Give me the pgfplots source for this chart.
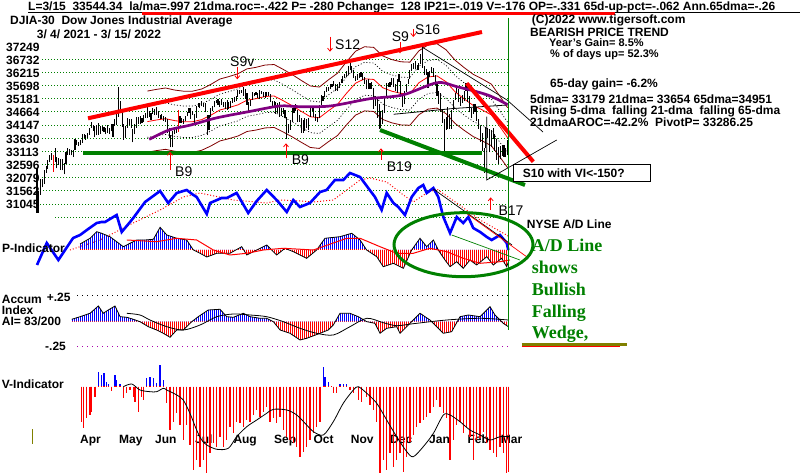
\documentclass[border=0pt]{standalone}
\usepackage{pgfplots}
\pgfplotsset{compat=1.18}
\usepackage{pgfplotstable}
\usetikzlibrary{patterns.meta,arrows.meta}
\usepackage{fontspec}
\setmainfont{Liberation Sans}
\newfontfamily\tnr{Liberation Serif}
\definecolor{dgreen}{RGB}{0,128,0}
\definecolor{maroon}{RGB}{128,0,0}
\definecolor{purp}{RGB}{128,0,128}
\definecolor{olive}{RGB}{128,128,0}
\definecolor{magent}{RGB}{170,0,170}
\newcommand{\bt}{\fontsize{12pt}{12pt}\selectfont\bfseries}
\newcommand{\bs}{\fontsize{11pt}{11pt}\selectfont\bfseries}
\newcommand{\st}{\fontsize{14pt}{14pt}\selectfont}
\newcommand{\gt}{\tnr\fontsize{18pt}{18pt}\selectfont\bfseries\color{dgreen}}

% DJIA daily low / high (trading day index 0 = 3/4/2021 ... 260 = 3/15/2022)
\pgfplotstableread{
d lo hi
0 30700 32480
1 30700 31560
2 31420 32020
3 31700 32050
4 31850 32390
5 32280 32560
6 32420 32790
7 32680 32970
8 32780 33050
9 32310 32990
10 32700 33230
11 32450 32890
12 32590 32860
13 32400 32820
14 32370 32800
15 32220 32650
16 32620 33090
17 32990 33260
18 32980 33210
19 32960 33160
20 32890 33170
21 33180 33620
22 33370 33580
23 33320 33500
24 33360 33570
25 33450 33810
26 33650 33790
27 33580 33760
28 33640 33850
29 33760 34050
30 34040 34260
31 33930 34160
32 33680 34100
33 33740 34150
34 33760 34230
35 33800 34130
36 33900 34100
37 33880 34080
38 33780 34030
39 33830 34140
40 33790 34050
41 33900 34190
42 33690 34180
43 34110 34380
44 34160 34570
45 34470 35650
46 34700 35090
47 34080 34650
48 33570 34210
49 33640 34130
50 34040 34440
51 34150 34400
52 34030 34380
53 33470 34000
54 33800 34190
55 34050 34450
56 34200 34480
57 34180 34500
58 34220 34420
59 34280 34550
60 34420 34630
61 34440 34850
62 34480 34690
63 34360 34610
64 34590 34810
65 34550 34770
66 34550 34850
67 34440 34700
68 34380 34560
69 34400 34570
70 34320 34520
71 34270 34450
72 33850 34380
73 33660 34050
74 33270 33760
75 33270 33900
76 33780 34010
77 33830 34030
78 33890 34740
79 34220 34500
80 34240 34440
81 34200 34380
82 34290 34520
83 34490 34650
84 34630 34800
85 34400 34800
86 34560 34720
87 34150 34600
88 34440 34910
89 34850 35000
90 34830 35030
91 34880 35100
92 34850 35010
93 34650 35030
94 33740 34560
95 33950 34530
96 34450 34810
97 34700 34880
98 34840 35080
99 35000 35150
100 34950 35170
101 34850 35110
102 34950 35170
103 34850 35040
104 34770 35060
105 34760 35130
106 34780 35060
107 34800 35080
108 35020 35220
109 35070 35260
110 35100 35310
111 35270 35510
112 35380 35520
113 35420 35530
114 35310 35630
115 35180 35550
116 34940 35420
117 34690 35050
118 34890 35150
119 35140 35430
120 35280 35410
121 35330 35450
122 35200 35420
123 35170 35510
124 35350 35500
125 35260 35450
126 35230 35460
127 35290 35450
128 35300 35450
129 35050 35370
130 34830 35110
131 34850 35100
132 34600 35050
133 34630 35000
134 34480 35050
135 34510 34830
136 34570 34830
137 34440 34760
138 33610 34460
139 33840 34200
140 33960 34340
141 34280 34820
142 34610 34820
143 34720 34990
144 34260 34740
145 34280 34560
146 33840 34440
147 33850 34350
148 33920 34410
149 34030 34380
150 33950 34440
151 34460 34830
152 34690 34850
153 34480 34880
154 34320 34580
155 34260 34470
156 34420 34920
157 34920 35330
158 35110 35290
159 35240 35490
160 35450 35650
161 35480 35640
162 35560 35760
163 35630 35780
164 35700 35890
165 35480 35760
166 35500 35750
167 35600 35830
168 35800 35960
169 35800 36060
170 35980 36170
171 36040 36290
172 36100 36470
173 36300 36570
174 36210 36480
175 35990 36320
176 35880 36090
177 35920 36160
178 35990 36190
179 36050 36250
180 35920 36190
181 35780 36030
182 35560 35900
183 35580 35950
184 35570 35820
185 35560 35840
186 34790 35600
187 34900 35300
188 34440 35200
189 34010 34980
190 34020 34690
191 34190 34760
192 34640 35300
193 35260 35820
194 35650 35810
195 35660 35850
196 35740 35980
197 35630 36000
198 35480 35760
199 35420 35950
200 35840 36150
201 35320 35880
202 34860 35320
203 34990 35500
204 35450 35770
205 35780 35960
206 35970 36330
207 36270 36530
208 36370 36570
209 36340 36680
210 36310 36490
211 36330 36600
212 36550 36930
213 36400 37220
214 36130 36480
215 36110 36340
216 35600 36250
217 36020 36270
218 36180 36440
219 36050 36400
220 35730 36120
221 35300 35780
222 34980 35490
223 34680 35400
224 34250 34790
225 33150 34380
226 33960 34460
227 33980 34860
228 34000 34600
229 34000 34750
230 34740 35150
231 35130 35420
232 35390 35640
233 35040 35560
234 34900 35270
235 35030 35320
236 35080 35470
237 35480 35800
238 35050 35820
239 34650 35280
240 34420 34800
241 34580 34990
242 34680 34960
243 34300 34860
244 34000 34390
245 33490 34100
246 33130 33830
247 32270 33240
248 33230 34080
249 33640 34050
250 33080 33980
251 33300 33970
252 33600 34040
253 33150 33800
254 32790 33610
255 32630 33300
256 32800 33310
257 32950 33360
258 32900 33350
259 32880 33260
260 32970 33560
}\price

\pgfplotstableread{
d lo hi
9 32310 32990
78 33890 34740
}\redbars

% 21-dma and its bands
\pgfplotstableread{
d ma up lo dup dlo
61 34285 35485 33085 34902 33668
66 34349 35551 33147 34967 33731
71 34401 35605 33197 35020 33782
76 34324 35525 33123 34942 33706
81 34279 35479 33079 34896 33662
86 34281 35481 33081 34898 33664
91 34363 35566 33160 34982 33744
96 34536 35745 33327 35158 33914
101 34740 35956 33524 35365 34115
106 34834 36053 33615 35461 34207
111 34942 36165 33719 35571 34313
116 35126 36355 33897 35758 34494
121 35185 36416 33954 35818 34552
126 35272 36507 34037 35907 34637
131 35291 36526 34056 35926 34656
136 35108 36337 33879 35740 34476
141 34909 36131 33687 35537 34281
146 34688 35902 33474 35312 34064
151 34477 35684 33270 35098 33856
156 34437 35642 33232 35057 33817
161 34710 35925 33495 35335 34085
166 34961 36185 33737 35590 34332
171 35398 36637 34159 36035 34761
176 35794 37047 34541 36438 35150
181 35966 37225 34707 36613 35319
186 35941 37199 34683 36588 35294
191 35616 36863 34369 36257 34975
196 35480 36722 34238 36119 34841
201 35395 36634 34156 36032 34758
206 35381 36619 34143 36018 34744
211 35811 37064 34558 36456 35166
216 36035 37296 34774 36684 35386
221 36080 37343 34817 36729 35431
226 35851 37106 34596 36496 35206
231 35454 36695 34213 36092 34816
236 35174 36405 33943 35807 34541
241 34920 36142 33698 35549 34291
246 34744 35960 33528 35369 34119
251 34548 35757 33339 35170 33926
256 34063 35255 32871 34676 33450
260 33654 34832 32476 34260 33047
}\ma

\pgfplotstableread{
d v
62 33590
73 33956
85 34153
99 34428
116 34663
134 34898
145 34871
162 34898
184 35185
202 35330
221 35813
232 35656
249 35330
260 34951
}\sma

\pgfplotstableread{
d v
197 34573
230 34800
260 34938
}\lma

% NYSE A/D line (relative units)
\pgfplotstableread{
d v
0 15
4.4 33
5.4 37
11.8 20
19.2 40
20 42
23.8 45
28.3 51
33 57
35.7 58
37.6 58
44 65
46.8 48
51.4 58
53.2 62
59.7 78
68 89
72.5 77
77.2 87
82.7 90
86.4 85
88.2 83
93.8 66
95.6 77
102 82
104.8 82
110.3 87
116.7 67
121.4 79
126.9 90
132.4 80
138 68
141.6 80
145.3 73
150.8 77
156.4 88
160 90
164.6 100
169.2 100
172.9 107
178.5 103
183 92
186.7 83
190.4 70
193.2 87
196.9 77
199.6 73
203.3 65
207 83
210.7 92
213.4 95
215.3 87
219 92
221.7 83
224.5 63
228.2 47
231.9 63
235.5 57
238.3 63
241 52
244.8 48
248.5 43
251.2 40
255.8 45
259.5 37
260.4 30
}\adl

\pgfplotstableread{
d v
18.2 30
34.8 40
53.2 57
68 70
80.8 83
90 87
108.5 80
126.9 77
134.3 80
145.3 79
152.7 78
163.7 80
171.1 90
178.5 100
184 102
193.2 98
202.4 85
207.9 78
215.3 87
220.8 91
231.9 77
244.8 60
261.3 43
}\adma

% P-Indicator
\pgfplotstableread{
d v
23.8 6
29.3 11.7
33 18.3
35.7 16.7
40.3 13.3
44 8.3
47.7 3.3
51.4 6.7
55.1 10
59.7 10
64.3 10.7
68 22.7
71.7 15
77.2 11.7
82.7 10
86.4 0
90.1 -3.3
93.8 -7
99.3 -3.3
106.6 -3.3
113.1 3.3
115.9 -5
121.4 0
126.9 5
132.4 -5
137 1.7
141.6 -1.7
149 -8.3
154.5 0
159.1 11.7
167.4 13.3
173.9 16.7
178.5 10
182.1 0
187.7 -6.7
191.3 -16.7
196.9 -13.3
202.4 -18.3
207 0
211.6 11.7
215.3 3.3
219 10
221.7 0
225.4 -10
228.2 -16.7
231.9 -11.7
235.5 -18.3
239.2 -10
242.9 -15
248.5 -6.7
252.1 -15
256.7 -8.3
259.5 -16.7
260.4 -12
}\pind

\pgfplotstableread{
d v
49.6 10
66.1 8.3
77.2 11.7
88.2 10
97.4 0
106.6 -5
115.9 -3.3
125 0
136.1 1.7
152.7 0
171.1 11.7
178.5 11.7
189.5 3.3
198.7 -3.3
207.9 -3.3
217.1 1.7
226.4 -1.7
235.5 -8.3
244.8 -13.3
255.8 -11.7
261.3 -10
}\pma

% Accumulation index
\pgfplotstableread{
d v
19.2 2.4
23.8 5
29.3 8.4
33.9 15.7
36.6 8.4
39.4 11.7
43.1 15.7
45.9 5
49.6 4.4
53.2 2.4
56.9 0
61.5 -5
66.1 -8.3
69.8 -11.6
73.5 -15.6
77.2 -8.3
80.8 -8.3
85.5 0
89.1 5
94.6 11.7
101.1 12.4
104.8 5
108.5 4.4
114 8.4
117.7 5
123.2 3.4
126.9 3.4
130.6 0
134.3 -8.3
139.8 -11.6
145.3 -18.3
149 -16.6
156.4 -11.6
160.9 -8.3
163.7 -3.3
167.4 8.4
172.9 8.4
177.5 5
182.2 0
186.7 -1.6
189.5 -11.6
193.2 -6.6
198.7 -5
200.6 -11.6
207.9 1.7
211.6 8.4
217.1 1.7
224.5 -11.6
229.1 -10
233.7 5
238.3 6.7
244.8 5
250.3 15
253 6.7
257.6 -1.6
260.4 -5
}\acc

\pgfplotstableread{
d v
49.6 8.4
56.9 6.7
62.4 1.7
71.7 -5
80.8 -8.3
90.1 -3.3
99.3 5
108.5 7.7
117.7 6.7
126.9 5
136.1 0
145.3 -6.6
154.5 -11.6
163.7 -13.3
172.9 -5
182.2 3.4
191.3 -1
198.7 -4
207.9 -2
226.4 1.7
244.8 3.4
260.4 1.7
}\accma

% V-Indicator
\pgfplotstableread{
d v
24.7 -35
25.6 -41.6
27.5 -31.6
29.3 -28.3
30.2 -25
32 -10
33.9 15
35.7 11.7
37 14
38.5 5
39.4 2.7
41.3 -4
43.1 11.7
44 6.7
45.9 2.7
47.7 -11.6
49.6 -6.6
51.4 -3.3
53.2 -10
54.1 -15
56 -25
57.8 -10
58.7 -13.3
60.6 8.4
62.4 10
64.3 8.4
66.1 3.4
67.9 21.7
69.8 6.7
71.7 -16.6
73.5 -43.3
75.3 -35
77.2 -26.6
79 -38.3
80.8 -53.3
82.7 -38.3
84.5 -58.3
86.4 -83.3
88.2 -73.3
90.1 -80
91.9 -73.3
93.8 -86.6
95.6 -66.6
97.4 -56.6
99.3 -60
101.1 -50
102.9 -60
104.8 -53.3
106.6 -40
108.5 -46.6
110.3 -35
112.2 -36.6
114 -40
115.9 -33.3
117.7 -35
119.5 -28.3
121.4 -23.3
123.2 -30
125 -25
126.9 -20
128.7 -35
130.6 -31.6
132.4 -36.6
134.3 -30
136.1 -43.3
138 -50
139.8 -53.3
141.6 -56.6
143.5 -60
145.3 -70
147.1 -65
149 -60
150.8 -53.3
152.7 -46.6
154.5 -40
156.4 -35
158.2 20
159.1 10
161 5
162.8 0.7
163.7 -6.6
165.6 -6.6
167.4 2.7
169.2 2.7
171.1 2.7
172.9 -3.3
174.8 -6.6
177.5 -13.3
179.4 -15
182.2 -10
184 -18.3
185.8 -23.3
187.7 -35
189.5 -86.3
191.3 -73.3
193.2 -83.3
195 -66.6
196.9 -80
198.7 -73.3
200.6 -66.6
202.4 -85
204.3 -70
206.1 -55
207.9 -48.3
209.8 -40
211.6 -36.6
213.4 -33.3
215.3 -30
217.1 -26.6
219 -20
220.8 -13.3
222.7 -20
224.5 -26.6
226.4 -31.6
228.2 -73.3
230 -53.3
231.9 -38.3
233.7 -35
235.5 -46.6
237.4 -40
239.2 -50
241 -73.3
242.9 -53.3
244.8 -51.6
246.6 -45
248.5 -56.6
250.3 -63.3
252.1 -66.6
254 -70
255.8 -60
257.6 -66.6
259.5 -86.6
260.4 -85
}\vind

\pgfplotstableread{
d v
47.7 0
52.3 2.7
56.9 -3.3
62.4 -5
66.1 -5
69.8 -1.6
71.7 -3.3
77.2 -8.3
80.8 -13.3
84.5 -26.6
88.2 -43.3
91 -53.3
93.8 -58.3
99.3 -62.6
105.7 -61.6
110.3 -50
115.9 -40
121.4 -33.3
126.9 -26.6
130.6 -22.6
138 -23.3
143.5 -28.3
149 -38.3
152.7 -45
158.2 -48.3
163.7 -35
169.2 -16.6
174.8 -3.3
177.5 0
182.2 -6.6
187.7 -16.6
193.2 -33.3
198.7 -50
204.3 -65
207.9 -70
213.4 -60
219 -46.6
224.5 -28.3
228.2 -28.3
233.7 -35
239.2 -43.3
244.8 -48.3
250.3 -53.3
255.8 -50
261.3 -50
}\vma

\pgfplotsset{
 dayaxis/.style={scale only axis, width=800pt, hide axis, xmin=-20.442, xmax=421.547, anchor=south west},
 pixaxis/.style={scale only axis, width=800pt, height=473pt, hide axis, xmin=0, xmax=800, ymin=0, ymax=473, y dir=reverse, clip=false, at={(0pt,0pt)}, anchor=south west},
 hatch/.style={draw=none, pattern={Lines[angle=90,distance=2pt,line width=1pt]}},
}

\begin{document}
\begin{tikzpicture}
% ---------- background: grid and labels ----------
\begin{axis}[pixaxis]
\draw[dgreen, line width=1pt, dash pattern=on 1pt off 2pt] (42,59.3) -- (508,59.3);
\draw[dgreen, line width=1pt, dash pattern=on 1pt off 2pt] (42,72.5) -- (508,72.5);
\draw[dgreen, line width=1pt, dash pattern=on 1pt off 2pt] (42,85.6) -- (508,85.6);
\draw[dgreen, line width=1pt, dash pattern=on 1pt off 2pt] (42,98.8) -- (508,98.8);
\draw[dgreen, line width=1pt, dash pattern=on 1pt off 2pt] (42,112.0) -- (508,112.0);
\draw[dgreen, line width=1pt, dash pattern=on 1pt off 2pt] (42,125.1) -- (508,125.1);
\draw[dgreen, line width=1pt, dash pattern=on 1pt off 2pt] (42,138.3) -- (508,138.3);
\draw[dgreen, line width=1pt, dash pattern=on 1pt off 2pt] (42,151.5) -- (508,151.5);
\draw[dgreen, line width=1pt, dash pattern=on 1pt off 2pt] (42,164.6) -- (508,164.6);
\draw[dgreen, line width=1pt, dash pattern=on 1pt off 2pt] (42,177.8) -- (508,177.8);
\draw[dgreen, line width=1pt, dash pattern=on 1pt off 2pt] (37,191.0) -- (508,191.0);
\draw[dgreen, line width=1pt, dash pattern=on 1pt off 2pt] (37,204.2) -- (508,204.2);
\draw[dgreen, line width=1pt, dash pattern=on 1pt off 2pt] (55,217.3) -- (508,217.3);
\draw[black, line width=1pt, dash pattern=on 1pt off 4pt] (77,295.7) -- (510,295.7);
\draw[magent, line width=1pt, dash pattern=on 1pt off 4pt] (77,346.5) -- (510,346.5);
% price labels
\node[anchor=base west, inner sep=0] at (6,51.7) {\bt 37249};
\node[anchor=base west, inner sep=0] at (6,64.75) {\bt 36732};
\node[anchor=base west, inner sep=0] at (6,77.8) {\bt 36215};
\node[anchor=base west, inner sep=0] at (6,90.85) {\bt 35698};
\node[anchor=base west, inner sep=0] at (6,103.9) {\bt 35181};
\node[anchor=base west, inner sep=0] at (6,116.95) {\bt 34664};
\node[anchor=base west, inner sep=0] at (6,130.0) {\bt 34147};
\node[anchor=base west, inner sep=0] at (6,143.05) {\bt 33630};
\node[anchor=base west, inner sep=0] at (6,156.1) {\bt 33113};
\node[anchor=base west, inner sep=0] at (6,169.15) {\bt 32596};
\node[anchor=base west, inner sep=0] at (6,182.2) {\bt 32079};
\node[anchor=base west, inner sep=0] at (6,195.25) {\bt 31562};
\node[anchor=base west, inner sep=0] at (6,208.3) {\bt 31045};
% month labels
\node[anchor=base west, inner sep=0] at (80,443.3) {\bt Apr};
\node[anchor=base west, inner sep=0] at (119,443.3) {\bt May};
\node[anchor=base west, inner sep=0] at (155,443.3) {\bt Jun};
\node[anchor=base west, inner sep=0] at (195,443.3) {\bt Jul};
\node[anchor=base west, inner sep=0] at (233.3,443.3) {\bt Aug};
\node[anchor=base west, inner sep=0] at (274,443.3) {\bt Sep};
\node[anchor=base west, inner sep=0] at (313.3,443.3) {\bt Oct};
\node[anchor=base west, inner sep=0] at (350.7,443.3) {\bt Nov};
\node[anchor=base west, inner sep=0] at (390,443.3) {\bt Dec};
\node[anchor=base west, inner sep=0] at (429,443.3) {\bt Jan};
\node[anchor=base west, inner sep=0] at (467.3,443.3) {\bt Feb};
\node[anchor=base west, inner sep=0] at (500.7,443.3) {\bt Mar};
\end{axis}

% ---------- price panel ----------
\begin{axis}[dayaxis, at={(0pt,0pt)}, height=473pt, ymin=20490.1, ymax=39060.1, clip=false]
\addplot[maroon, line width=0.8pt] table[x=d, y=up] {\ma};
\addplot[maroon, line width=0.8pt] table[x=d, y=lo] {\ma};
\addplot[black, line width=0.7pt, dash pattern=on 1pt off 2pt] table[x=d, y=dup] {\ma};
\addplot[black, line width=0.7pt, dash pattern=on 1pt off 2pt] table[x=d, y=dlo] {\ma};
\addplot[red, line width=0.8pt] table[x=d, y=ma] {\ma};
\addplot[black, line width=0.8pt] table[x=d, y=v] {\lma};
\addplot[black, line width=1.1pt, quiver={u=0, v=\thisrow{hi}-\thisrow{lo}}] table[x=d, y=lo] {\price};
\addplot[red, line width=1.2pt, quiver={u=0, v=\thisrow{hi}-\thisrow{lo}}] table[x=d, y=lo] {\redbars};
\addplot[purp, line width=2.7pt, smooth] table[x=d, y=v] {\sma};
\end{axis}

% ---------- NYSE A/D line ----------
\begin{axis}[dayaxis, at={(0pt,193pt)}, height=100pt, ymin=0, ymax=100, clip=false]
\addplot[red, line width=1pt, dash pattern=on 1pt off 2pt] table {\adma};
\addplot[blue, line width=2.6pt] table {\adl};
\end{axis}

% ---------- P-Indicator ----------
\begin{axis}[dayaxis, at={(0pt,223pt)}, height=60pt, ymin=0, ymax=60]
\addplot[hatch, pattern color=blue] table {\pind} \closedcycle;
\end{axis}
\begin{axis}[dayaxis, at={(0pt,163pt)}, height=60pt, ymin=-60, ymax=0]
\addplot[hatch, pattern color=red] table {\pind} \closedcycle;
\end{axis}
\begin{axis}[dayaxis, at={(0pt,163pt)}, height=120pt, ymin=-60, ymax=60, clip=false]
\addplot[black, line width=0.8pt] table {\pind};
\addplot[red, line width=1pt] table {\pma};
\end{axis}

% ---------- Accumulation index ----------
\begin{axis}[dayaxis, at={(0pt,151.3pt)}, height=40pt, ymin=0, ymax=40]
\addplot[hatch, pattern color=blue] table {\acc} \closedcycle;
\end{axis}
\begin{axis}[dayaxis, at={(0pt,111.3pt)}, height=40pt, ymin=-40, ymax=0]
\addplot[hatch, pattern color=red] table {\acc} \closedcycle;
\end{axis}
\begin{axis}[dayaxis, at={(0pt,111.3pt)}, height=80pt, ymin=-40, ymax=40, clip=false]
\addplot[black, line width=0.8pt] table {\acc};
\addplot[black, line width=0.8pt, smooth] table {\accma};
\end{axis}

% ---------- V-Indicator ----------
\begin{axis}[dayaxis, at={(0pt,86.3pt)}, height=30pt, ymin=0, ymax=30]
\addplot[ycomb, blue, line width=1.4pt] table {\vind};
\end{axis}
\begin{axis}[dayaxis, at={(0pt,0pt)}, height=86.3pt, ymin=-86.3, ymax=0]
\addplot[ycomb, red, line width=1.4pt] table {\vind};
\end{axis}
\begin{axis}[dayaxis, at={(0pt,0pt)}, height=116.3pt, ymin=-86.3, ymax=30, clip=false]
\addplot[black, line width=0.8pt, smooth] table {\vma};
\end{axis}

% ---------- annotations ----------
\begin{axis}[pixaxis]
% header
\node[anchor=base west, inner sep=0] at (28,11) {\bt L=3/15~~33544.34~~la/ma=.997 21dma.roc=-.422 P= -280 Pchange=~~128 IP21=-.019 V=-176 OP=-.331 65d-up-pct=-.062 Ann.65dma=-.26};
\draw[black, line width=0.8pt] (28,12.6) -- (800,12.6);
\draw[red, line width=3.3pt] (141.7,13.6) -- (615,13.6);
\node[anchor=base west, inner sep=0] at (10,25) {\bt DJIA-30~~Dow Jones Industrial Average};
\node[anchor=base west, inner sep=0] at (36.7,38.3) {\bt 3/ 4/ 2021 - 3/ 15/ 2022};
% right texts
\node[anchor=base west, inner sep=0] at (531.7,23.3) {\bt (C)2022 www.tigersoft.com};
\node[anchor=base west, inner sep=0] at (530,36.2) {\bt BEARISH PRICE TREND};
\node[anchor=base west, inner sep=0] at (549,46.7) {\bs Year's Gain= 8.5\%};
\node[anchor=base west, inner sep=0] at (550,57.4) {\bs \% of days up= 52.3\%};
\node[anchor=base west, inner sep=0] at (550,87.7) {\bt 65-day gain= -6.2\%};
\node[anchor=base west, inner sep=0] at (530,103.3) {\bt 5dma= 33179 21dma= 33654 65dma=34951};
\node[anchor=base west, inner sep=0] at (530,114.3) {\bt Rising 5-dma~~falling 21-dma~~falling 65-dma};
\node[anchor=base west, inner sep=0] at (530,127) {\bt 21dmaAROC=-42.2\%~~PivotP= 33286.25};
% trend lines
\draw[red, line width=4pt] (88,118.3) -- (482,32);
\draw[red, line width=4pt] (466.7,83.3) -- (533.3,161.7);
\draw[dgreen, line width=4pt] (82.7,153) -- (481.7,153);
\draw[dgreen, line width=4pt] (380,130) -- (525,185);
\draw[black, line width=0.7pt] (422,47) -- (507,100) -- (543,132);
\draw[black, line width=0.7pt] (486.7,116.7) -- (486.7,180) -- (556.7,140);
% S10 box
\draw[black, line width=1pt, fill=white] (513.3,164.3) rectangle (650,181.7);
\node[anchor=base west, inner sep=0] at (522.7,178) {\bt S10 with VI<-150?};
% signals
\draw[red, line width=0.8pt, -{Straight Barb[length=3pt,width=5pt]}] (237.3,66.7) -- (237.3,79.3);
\draw[red, line width=0.8pt, -{Straight Barb[length=3pt,width=5pt]}] (330,36.7) -- (330,51.7);
\draw[red, line width=0.8pt, -{Straight Barb[length=3pt,width=5pt]}] (400,42) -- (400,53.3);
\draw[red, line width=0.8pt, -{Straight Barb[length=3pt,width=5pt]}] (413.3,29) -- (413.3,37);
\draw[red, line width=0.8pt, -{Straight Barb[length=3pt,width=5pt]}] (170,170) -- (170,151.7);
\draw[red, line width=0.8pt, -{Straight Barb[length=3pt,width=5pt]}] (286,158.3) -- (286,143.3);
\draw[red, line width=0.8pt, -{Straight Barb[length=3pt,width=5pt]}] (381,160) -- (381,148.3);
\draw[red, line width=0.8pt, -{Straight Barb[length=3pt,width=5pt]}] (490.7,210) -- (490.7,197.3);
\node[anchor=base west, inner sep=0] at (230,66.7) {\st S9v};
\node[anchor=base west, inner sep=0] at (335,50) {\st S12};
\node[anchor=base west, inner sep=0] at (391.7,41.7) {\st S9};
\node[anchor=base west, inner sep=0] at (415,35) {\st S16};
\node[anchor=base west, inner sep=0] at (175,176.7) {\st B9};
\node[anchor=base west, inner sep=0] at (291.7,165) {\st B9};
\node[anchor=base west, inner sep=0] at (386.7,171.7) {\st B19};
\node[anchor=base west, inner sep=0] at (498.3,215) {\st B17};
% A/D wedge
\draw[black, line width=0.7pt] (433.3,189) -- (512,245);
\draw[red, line width=0.7pt] (466,213) -- (527,257);
\draw[dgreen, line width=0.7pt] (451.7,235) -- (520,260);
\draw[dgreen, line width=3pt] (463.5,244.7) ellipse [x radius=69.5pt, y radius=32pt];
\draw[dgreen, line width=1.5pt] (508.3,18) -- (508.3,330);
% panel labels
\node[anchor=base west, inner sep=0] at (526.7,228.3) {\bt NYSE A/D Line};
\node[anchor=base west, inner sep=0] at (2,252) {\bt P-Indicator};
\node[anchor=base west, inner sep=0] at (1.7,303.3) {\bt Accum};
\node[anchor=base west, inner sep=0] at (46.7,301.3) {\bt +.25};
\node[anchor=base west, inner sep=0] at (1.7,314.3) {\bt Index};
\node[anchor=base west, inner sep=0] at (1.7,325) {\bt AI= 83/200};
\node[anchor=base west, inner sep=0] at (45,350.7) {\bt -.25};
\node[anchor=base west, inner sep=0] at (1.7,388.3) {\bt V-Indicator};
% green comment
\node[anchor=base west, inner sep=0] at (531.7,251.7) {\gt A/D Line};
\node[anchor=base west, inner sep=0] at (531.7,273.5) {\gt shows};
\node[anchor=base west, inner sep=0] at (531.7,295.3) {\gt Bullish};
\node[anchor=base west, inner sep=0] at (531.7,317.1) {\gt Falling};
\node[anchor=base west, inner sep=0] at (531.7,338.9) {\gt Wedge,};
\draw[red, line width=0.8pt] (521.7,346.7) -- (620,346.7);
\draw[olive, line width=2.5pt] (521.7,344.3) -- (626.7,344.3);
\draw[olive, line width=1pt] (32.3,429) -- (32.3,444);
\end{axis}
\pgfresetboundingbox
\useasboundingbox (0pt,0pt) rectangle (800pt,473pt);
\end{tikzpicture}
\end{document}
